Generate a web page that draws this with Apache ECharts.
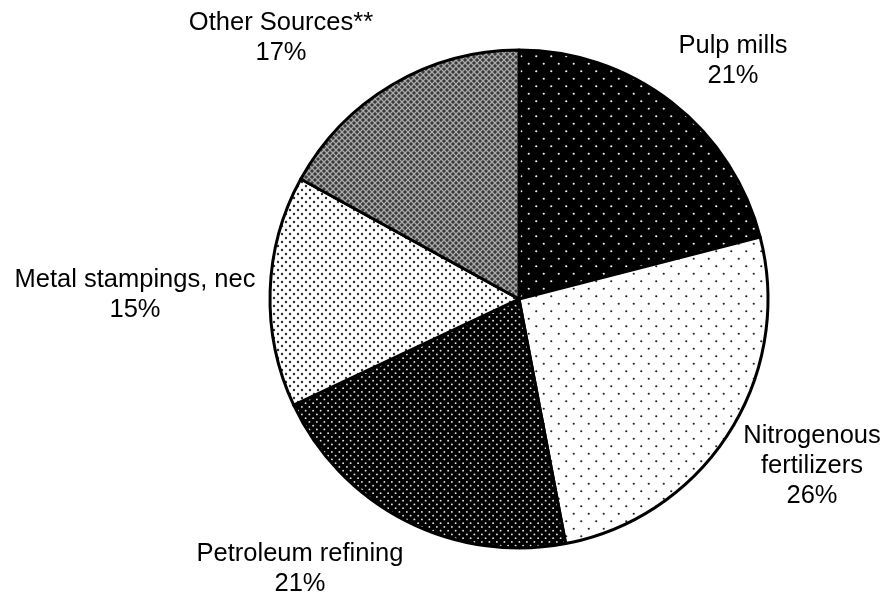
<!DOCTYPE html>
<html>
<head>
<meta charset="utf-8">
<script src="https://cdn.jsdelivr.net/npm/echarts@6/dist/echarts.min.js"></script>
<style>
  html, body { margin: 0; padding: 0; background: #fff; }
  #chart { width: 886px; height: 598px; }
</style>
</head>
<body>
<div id="chart"></div>
<script>
// Shares of releases by source category (percent)
const categories = ['Pulp mills', 'Nitrogenous\nfertilizers', 'Petroleum refining', 'Metal stampings, nec', 'Other Sources**'];
const shares = [21, 26, 21, 15, 17];

// Where each label block is centred on the page
const labelAnchors = [[733, 61], [812, 466], [300, 569], [135, 295], [281, 38]];

// Tile with dots on a staggered lattice (every other row shifted by half a step)
function dotTile(w, h, sx, sy, bg, fg, r) {
  const c = document.createElement('canvas');
  c.width = w; c.height = h;
  const g = c.getContext('2d');
  g.fillStyle = bg; g.fillRect(0, 0, w, h);
  g.fillStyle = fg;
  let j = 0;
  for (let y = sy / 2; y < h; y += sy, j++) {
    const off = (j % 2) * sx / 2;
    for (let x = sx / 4 + off; x < w; x += sx) {
      g.beginPath(); g.arc(x, y, r, 0, Math.PI * 2); g.fill();
    }
  }
  return { image: c, repeat: 'repeat' };
}

// Diagonal cross-hatch tile
function hatchTile(size, bg, fg, lw) {
  const c = document.createElement('canvas');
  c.width = size; c.height = size;
  const g = c.getContext('2d');
  g.fillStyle = bg; g.fillRect(0, 0, size, size);
  g.strokeStyle = fg; g.lineWidth = lw;
  g.beginPath();
  g.moveTo(0, 0); g.lineTo(size, size);
  g.moveTo(size, 0); g.lineTo(0, size);
  g.stroke();
  return { image: c, repeat: 'repeat' };
}

const fills = [
  dotTile(15, 15, 15, 7.5, '#000', '#f0f0f0', 1.1),
  dotTile(15, 15, 15, 7.5, '#fff', '#222', 1.1),
  dotTile(15, 15, 7.5, 3.75, '#000', '#e8e8e8', 0.95),
  dotTile(8, 8, 8, 4, '#fff', '#2a2a2a', 1.2),
  hatchTile(6, '#3a3a3a', '#aaaaaa', 1.3)
];

const chart = echarts.init(document.getElementById('chart'), null, { renderer: 'canvas' });
chart.setOption({
  animation: false,
  backgroundColor: '#fff',
  series: [{
    type: 'pie',
    center: [519, 299],
    radius: 249,
    startAngle: 90,
    clockwise: true,
    data: categories.map((name, i) => ({
      name: name,
      value: shares[i],
      itemStyle: { color: fills[i] }
    })),
    itemStyle: { borderColor: '#000', borderWidth: 3 },
    label: {
      show: true,
      position: 'outside',
      formatter: '{b}\n{d}%',
      fontFamily: 'Liberation Sans, Arial, sans-serif',
      fontSize: 25.5,
      lineHeight: 30,
      color: '#000',
      align: 'center',
      width: 300,
      overflow: 'none'
    },
    labelLine: { show: false },
    labelLayout: function (params) {
      const p = labelAnchors[params.dataIndex];
      return { x: p[0], y: p[1], align: 'center', verticalAlign: 'middle' };
    },
    emphasis: { disabled: true }
  }]
});
</script>
</body>
</html>
